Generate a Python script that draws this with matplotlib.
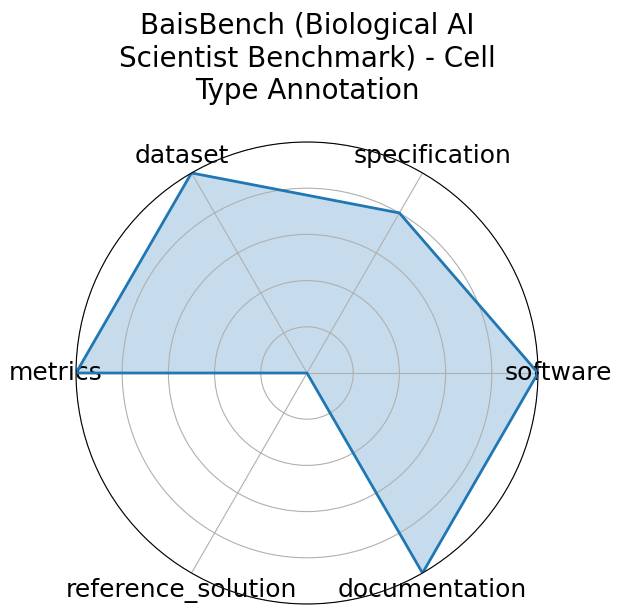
import numpy as np
import matplotlib
matplotlib.use("Agg")
import matplotlib.pyplot as plt

categories = ["software", "specification", "dataset", "metrics", "reference_solution", "documentation"]
values = [1.0, 0.8, 1.0, 1.0, 0.0, 1.0]
title = "BaisBench (Biological AI\nScientist Benchmark) - Cell\nType Annotation"

fig = plt.figure(figsize=(6.21, 6.14), dpi=100)
ax = fig.add_axes([76/621, 10/614, 462/621, 462/614], projection="polar")

n = len(categories)
angles = np.linspace(0, 2*np.pi, n, endpoint=False).tolist()
vals = values + values[:1]
angs = angles + angles[:1]

ax.plot(angs, vals, color="#1f77b4", linewidth=2)
ax.fill(angs, vals, color="#1f77b4", alpha=0.25)
ax.set_ylim(0, 1)
ax.set_yticks([0.2, 0.4, 0.6, 0.8, 1.0])
ax.set_yticklabels([])
ax.set_xticks(angles)
ax.set_xticklabels(categories, fontsize=18)
ax.tick_params(axis="x", pad=4)
ax.set_title(title, fontsize=20, pad=31)

fig.savefig("out.png", dpi=100)
